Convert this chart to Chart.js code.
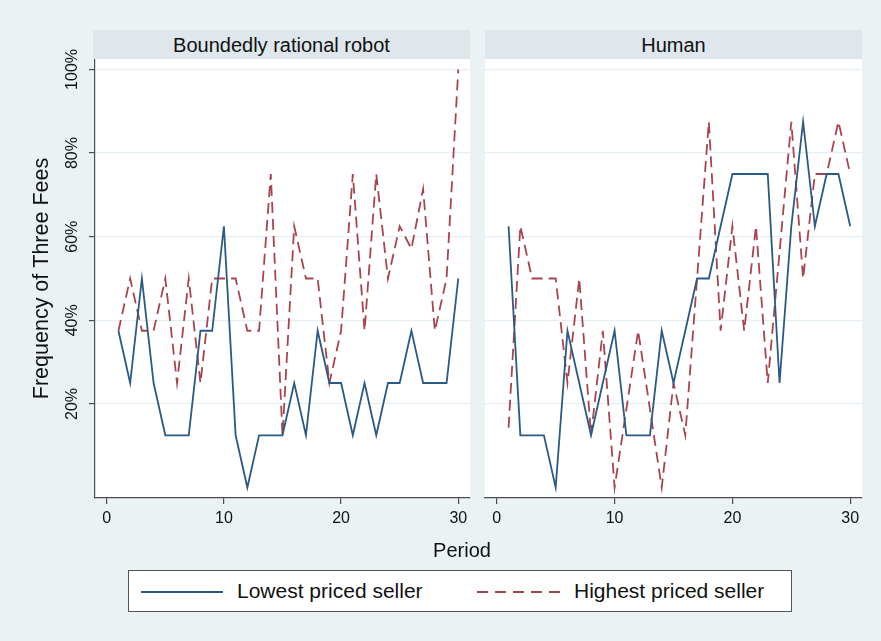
<!DOCTYPE html>
<html>
<head>
<meta charset="utf-8">
<script src="https://cdn.jsdelivr.net/npm/chart.js@4/dist/chart.umd.min.js"></script>
<style>
  html, body { margin: 0; padding: 0; background: #eaf2f3; }
  #wrap { position: relative; width: 881px; height: 641px; overflow: hidden;
          font-family: "Liberation Sans", Arial, Helvetica, sans-serif; color: #111; }
  canvas { position: absolute; top: 0; }
  .strip { position: absolute; top: 30px; height: 29px; background: #dfe7ec;
           font-size: 20px; line-height: 30px; text-align: center; white-space: nowrap; }
  #xtitle { position: absolute; left: 412px; width: 100px; top: 538px; text-align: center;
            font-size: 20px; line-height: 24px; }
  #legend { position: absolute; left: 128px; top: 570px; width: 664px; height: 42px;
            background: #fff; border: 1px solid #555; box-sizing: border-box; }
  #legend svg { position: absolute; top: 0; left: 0; }
  #legend .lab { position: absolute; top: 8px; font-size: 21px; line-height: 24px; white-space: nowrap; }
</style>
</head>
<body>
<div id="wrap">
  <canvas id="left" width="478" height="641" style="left:0;width:478px;height:641px"></canvas>
  <canvas id="right" width="403" height="641" style="left:478px;width:403px;height:641px"></canvas>
  <div class="strip" id="strip0" style="left:93px;width:377px"></div>
  <div class="strip" id="strip1" style="left:485px;width:377px"></div>
  <div id="xtitle"></div>
  <div id="legend">
    <svg width="664" height="42">
      <line x1="12" y1="21" x2="94" y2="21" stroke="#2a5a85" stroke-width="1.8"/>
      <line x1="348" y1="21" x2="432" y2="21" stroke="#a9444e" stroke-width="1.8" stroke-dasharray="11 7"/>
    </svg>
    <span class="lab" id="lab0" style="left:108px"></span>
    <span class="lab" id="lab1" style="left:445px"></span>
  </div>
</div>
<script>
// Period numbers shared by both panels
const periods = [1, 2, 3, 4, 5, 6, 7, 8, 9, 10, 11, 12, 13, 14, 15,
                 16, 17, 18, 19, 20, 21, 22, 23, 24, 25, 26, 27, 28, 29, 30];

// Share of periods (%) in which the seller charged three fees
const robotLowest  = [37.5, 25, 50, 25, 12.5, 12.5, 12.5, 37.5, 37.5, 62.5,
                      12.5, 0, 12.5, 12.5, 12.5, 25, 12.5, 37.5, 25, 25,
                      12.5, 25, 12.5, 25, 25, 37.5, 25, 25, 25, 50];
const robotHighest = [37.5, 50, 37.5, 37.5, 50, 25, 50, 25, 50, 50,
                      50, 37.5, 37.5, 75, 12.5, 62.5, 50, 50, 25, 37.5,
                      75, 37.5, 75, 50, 62.5, 57.1, 71.4, 37.5, 50, 100];
const humanLowest  = [62.5, 12.5, 12.5, 12.5, 0, 37.5, 25, 12.5, 25, 37.5,
                      12.5, 12.5, 12.5, 37.5, 25, 37.5, 50, 50, 62.5, 75,
                      75, 75, 75, 25, 62.5, 87.5, 62.5, 75, 75, 62.5];
const humanHighest = [14.3, 62.5, 50, 50, 50, 25, 50, 12.5, 37.5, 0,
                      18.75, 37.5, 18.75, 0, 25, 12.5, 50, 87.5, 37.5, 62.5,
                      37.5, 62.5, 25, 56.25, 87.5, 50, 75, 75, 87.5, 75];

// Axis ticks and labels
const xTicks = [0, 10, 20, 30];
const yTicks = [20, 40, 60, 80, 100];
const panelTitles = ['Boundedly rational robot', 'Human'];
const seriesNames = ['Lowest priced seller', 'Highest priced seller'];
const xTitle = 'Period';
const yTitle = 'Frequency of Three Fees';

const FONT = '"Liberation Sans", Arial, Helvetica, sans-serif';
const BLUE = '#2a5a85';
const RED = '#a9444e';
const AXIS = '#4d4d4d';
const GRID = '#e6eff1';
const PLOT_BOTTOM = 498;

document.getElementById('strip0').textContent = panelTitles[0];
document.getElementById('strip1').textContent = panelTitles[1];
document.getElementById('xtitle').textContent = xTitle;
document.getElementById('lab0').textContent = seriesNames[0];
document.getElementById('lab1').textContent = seriesNames[1];

// White plot region behind the lines
const plotBackground = {
  id: 'plotBackground',
  beforeDraw(chart) {
    const { ctx, chartArea: a } = chart;
    ctx.save();
    ctx.fillStyle = '#ffffff';
    ctx.fillRect(a.left, a.top, a.right - a.left, a.bottom - a.top);
    ctx.restore();
  }
};

// Vertical tick labels and the axis title on the left panel
const yAxisText = {
  id: 'yAxisText',
  afterDraw(chart) {
    const { ctx, chartArea: a } = chart;
    const y = chart.scales.y;
    ctx.save();
    ctx.fillStyle = '#111';
    ctx.textAlign = 'center';
    ctx.textBaseline = 'middle';
    ctx.font = '16px ' + FONT;
    yTicks.forEach(v => {
      ctx.save();
      ctx.translate(73, y.getPixelForValue(v));
      ctx.rotate(-Math.PI / 2);
      ctx.fillText(v + '%', 0, 0);
      ctx.restore();
    });
    ctx.font = '21.5px ' + FONT;
    ctx.translate(42, (a.top + a.bottom) / 2);
    ctx.rotate(-Math.PI / 2);
    ctx.fillText(yTitle, 0, 0);
    ctx.restore();
  }
};

function makePanel(id, low, high, withYAxis) {
  const plugins = [plotBackground];
  if (withYAxis) plugins.push(yAxisText);
  return new Chart(document.getElementById(id), {
    type: 'line',
    data: {
      datasets: [
        {
          label: seriesNames[0],
          data: periods.map((p, i) => ({ x: p, y: low[i] })),
          borderColor: BLUE, borderWidth: 1.8, pointRadius: 0, tension: 0, fill: false
        },
        {
          label: seriesNames[1],
          data: periods.map((p, i) => ({ x: p, y: high[i] })),
          borderColor: RED, borderWidth: 1.8, borderDash: [11, 6], pointRadius: 0, tension: 0, fill: false
        }
      ]
    },
    options: {
      responsive: false,
      animation: false,
      devicePixelRatio: 1,
      layout: { padding: { top: 59, bottom: 0, left: withYAxis ? 0 : 7, right: withYAxis ? 8 : 19 } },
      plugins: { legend: { display: false }, tooltip: { enabled: false } },
      scales: {
        x: {
          type: 'linear', min: -1, max: 31,
          afterBuildTicks: s => { s.ticks = xTicks.map(v => ({ value: v })); },
          afterFit: s => { s.height = 641 - PLOT_BOTTOM; },
          grid: { drawOnChartArea: false, tickLength: 6, color: AXIS, tickColor: AXIS, lineWidth: 1.2 },
          border: { color: AXIS, width: 1.2 },
          ticks: { color: '#111', font: { size: 16, family: FONT }, padding: 5, maxRotation: 0, autoSkip: false }
        },
        y: {
          type: 'linear', min: -2.5, max: 102.5,
          afterBuildTicks: s => { s.ticks = yTicks.map(v => ({ value: v })); },
          afterFit: s => { s.width = withYAxis ? 95 : 0; },
          grid: { color: GRID, lineWidth: 1.2, drawTicks: withYAxis, tickLength: withYAxis ? 6 : 0,
                  tickColor: withYAxis ? AXIS : 'rgba(0,0,0,0)' },
          border: { display: withYAxis, color: AXIS, width: 1.2 },
          ticks: { display: false }
        }
      }
    },
    plugins
  });
}

makePanel('left', robotLowest, robotHighest, true);
makePanel('right', humanLowest, humanHighest, false);
</script>
</body>
</html>
